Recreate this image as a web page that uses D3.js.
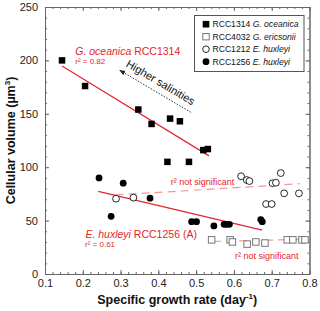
<!DOCTYPE html>
<html><head><meta charset="utf-8">
<script src="https://cdn.jsdelivr.net/npm/d3@7"></script>
<style>body{margin:0;background:#fff}svg{display:block;font-family:"Liberation Sans",Arial,Helvetica,sans-serif}</style>
</head><body>
<svg id="c" width="320" height="311"></svg>
<script>
// ---- data ----
const gOceanica = [[0.145,200],[0.206,176],[0.347,154],[0.382,140.5],[0.431,145.5],[0.457,143],[0.424,105],[0.481,105],[0.519,116],[0.531,117]];
const gEricsonii = [[0.541,32],[0.590,32],[0.596,30],[0.635,28],[0.658,30],[0.682,29],[0.741,32],[0.756,32],[0.780,32],[0.788,32]];
const eHux1212 = [[0.288,70.5],[0.334,71.5],[0.619,91.5],[0.634,88],[0.641,87],[0.702,85],[0.711,85.5],[0.724,94.5],[0.733,75.5],[0.772,75.5],[0.685,65.5],[0.700,65.5]];
const eHux1256 = [[0.243,90],[0.275,54],[0.307,85],[0.378,71],[0.488,49],[0.501,49],[0.547,45],[0.574,46.5],[0.581,46.5],[0.588,46.5],[0.671,51],[0.675,49]];
const fitOceanica = [[0.145,194.7],[0.534,110.6]];
const fit1256 = [[0.241,77.3],[0.675,41.1]];
const fit1212 = [[0.287,74],[0.775,84.5]];
const fitEricsonii = [[0.545,30.5],[0.79,32.5]];
const xTicks = [0.1,0.2,0.3,0.4,0.5,0.6,0.7,0.8];
const yTicks = [0,50,100,150,200,250];
const arrow = [[0.486,151.4],[0.298,190.7]];

const red = "#e3262b", pink = "#f29a9a", axisCol = "#666";
const svg = d3.select("#c");
const x = d3.scaleLinear([0.1,0.8],[45,309.5]);
const y = d3.scaleLinear([0,250],[274,7]);
const L=45,R=309.5,T=7,B=274;

const xMinor = d3.range(0.1,0.8001,0.02).map(v=>+v.toFixed(2));
const yMinor = d3.range(0,250.1,10);

function styleAxis(g){
  g.selectAll(".domain").attr("stroke",axisCol);
  g.selectAll(".tick line").attr("stroke",axisCol);
  g.selectAll("text").attr("fill","#222").attr("font-size",11).attr("font-family","Liberation Sans, Arial, sans-serif");
}
// bottom
svg.append("g").attr("transform",`translate(0,${B})`).call(d3.axisBottom(x).tickValues(xMinor).tickSize(-2).tickSizeOuter(0).tickFormat("")).call(styleAxis);
svg.append("g").attr("transform",`translate(0,${B})`).call(d3.axisBottom(x).tickValues(xTicks).tickSize(-4).tickSizeOuter(0).tickPadding(5).tickFormat(d3.format(".1f"))).call(styleAxis);
// top
svg.append("g").attr("transform",`translate(0,${T})`).call(d3.axisTop(x).tickValues(xMinor).tickSize(-2).tickSizeOuter(0).tickFormat("")).call(styleAxis);
svg.append("g").attr("transform",`translate(0,${T})`).call(d3.axisTop(x).tickValues(xTicks).tickSize(-4).tickSizeOuter(0).tickFormat("")).call(styleAxis);
// left
svg.append("g").attr("transform",`translate(${L},0)`).call(d3.axisLeft(y).tickValues(yMinor).tickSize(-2).tickSizeOuter(0).tickFormat("")).call(styleAxis);
svg.append("g").attr("transform",`translate(${L},0)`).call(d3.axisLeft(y).tickValues(yTicks).tickSize(-4).tickSizeOuter(0).tickPadding(7)).call(styleAxis);
// right
svg.append("g").attr("transform",`translate(${R},0)`).call(d3.axisRight(y).tickValues(yMinor).tickSize(-2).tickSizeOuter(0).tickFormat("")).call(styleAxis);
svg.append("g").attr("transform",`translate(${R},0)`).call(d3.axisRight(y).tickValues(yTicks).tickSize(-4).tickSizeOuter(0).tickFormat("")).call(styleAxis);

// axis titles
const yt = svg.append("text").attr("transform",`translate(15,${(T+B)/2}) rotate(-90)`).attr("text-anchor","middle")
  .attr("font-weight","bold").attr("font-size",12.5).attr("fill","#111");
yt.append("tspan").text("Cellular volume (µm");
yt.append("tspan").text("3").attr("font-size",8).attr("dy",-5);
yt.append("tspan").text(")").attr("dy",5);
const xt = svg.append("text").attr("x",(L+R)/2).attr("y",304).attr("text-anchor","middle")
  .attr("font-weight","bold").attr("font-size",12.5).attr("fill","#111");
xt.append("tspan").text("Specific growth rate (day");
xt.append("tspan").text("-1").attr("font-size",8).attr("dy",-5);
xt.append("tspan").text(")").attr("dy",5);

// fit lines
const line = d3.line().x(d=>x(d[0])).y(d=>y(d[1]));
svg.append("path").attr("d",line(fitOceanica)).attr("stroke",red).attr("stroke-width",1.2).attr("fill","none");
svg.append("path").attr("d",line(fit1256)).attr("stroke",red).attr("stroke-width",1.2).attr("fill","none");
svg.append("path").attr("d",line(fit1212)).attr("stroke",pink).attr("stroke-width",1.2).attr("stroke-dasharray","8,5").attr("fill","none");
svg.append("path").attr("d",line(fitEricsonii)).attr("stroke",pink).attr("stroke-width",1.2).attr("stroke-dasharray","8,5").attr("fill","none");

// points
const sq = 6.5, r = 3.4;
svg.append("g").selectAll("rect").data(gEricsonii).join("rect")
  .attr("x",d=>x(d[0])-sq/2).attr("y",d=>y(d[1])-sq/2).attr("width",sq).attr("height",sq)
  .attr("fill","#fff").attr("stroke","#777").attr("stroke-width",1);
svg.append("g").selectAll("circle").data(eHux1212).join("circle")
  .attr("cx",d=>x(d[0])).attr("cy",d=>y(d[1])).attr("r",r)
  .attr("fill","#fff").attr("stroke","#111").attr("stroke-width",0.9);
svg.append("g").selectAll("circle").data(eHux1256).join("circle")
  .attr("cx",d=>x(d[0])).attr("cy",d=>y(d[1])).attr("r",r).attr("fill","#000");
svg.append("g").selectAll("rect").data(gOceanica).join("rect")
  .attr("x",d=>x(d[0])-sq/2).attr("y",d=>y(d[1])-sq/2).attr("width",sq).attr("height",sq).attr("fill","#000");

// annotations
function label(px,py,italic,normal,size,col){
  const t = svg.append("text").attr("x",px).attr("y",py).attr("font-size",size).attr("fill",col);
  t.append("tspan").text(italic).attr("font-style","italic");
  t.append("tspan").text(normal);
  return t;
}
label(x(0.18),y(205.5),"G. oceanica"," RCC1314",10.5,red);
svg.append("text").attr("x",x(0.18)).attr("y",y(205.5)+9.5).attr("font-size",8).attr("fill",red).text("r² = 0.82");
label(x(0.207),y(34),"E. huxleyi"," RCC1256 (A)",10.5,red);
svg.append("text").attr("x",x(0.206)).attr("y",y(34)+9.5).attr("font-size",8).attr("fill",red).text("r² = 0.61");
svg.append("text").attr("x",x(0.433)).attr("y",y(83.5)).attr("font-size",9).attr("fill",red).text("r² not significant");
svg.append("text").attr("x",x(0.603)).attr("y",y(14.5)).attr("font-size",9).attr("fill",red).text("r² not significant");

// arrow
const defs = svg.append("defs");
defs.append("marker").attr("id","ah").attr("viewBox","0 0 10 10").attr("refX",9).attr("refY",5)
  .attr("markerWidth",6).attr("markerHeight",6).attr("orient","auto")
  .append("path").attr("d","M0,1 L10,5 L0,9 Z").attr("fill","#222");
svg.append("path").attr("d",line(arrow)).attr("stroke","#333").attr("stroke-width",1).attr("stroke-dasharray","1.5,1.5")
  .attr("fill","none").attr("marker-end","url(#ah)");
const ax0=x(arrow[0][0]),ay0=y(arrow[0][1]),ax1=x(arrow[1][0]),ay1=y(arrow[1][1]);
const ang = Math.atan2(ay0-ay1, ax0-ax1)*180/Math.PI;
const mx=(ax0+ax1)/2+0.509*6.5, my=(ay0+ay1)/2-0.861*6.5;
svg.append("text").attr("transform",`translate(${mx},${my}) rotate(${ang})`).attr("text-anchor","middle")
  .attr("font-size",11).attr("fill","#111").text("Higher salinities");

// legend
const lg = svg.append("g").attr("transform","translate(194.5,15.5)");
lg.append("rect").attr("width",109.5).attr("height",56).attr("fill","#fff").attr("stroke","#555").attr("stroke-width",1);
const legendItems = [["sq","RCC1314 ","G. oceanica"],["osq","RCC4032 ","G. ericsonii"],["oc","RCC1212 ","E. huxleyi"],["c","RCC1256 ","E. huxleyi"]];
legendItems.forEach((it,i)=>{
  const cy = 8.7 + i*12.5, cx = 11.5;
  if(it[0]==="sq") lg.append("rect").attr("x",cx-3.3).attr("y",cy-3.3).attr("width",6.6).attr("height",6.6).attr("fill","#000");
  if(it[0]==="osq") lg.append("rect").attr("x",cx-3.2).attr("y",cy-3.2).attr("width",6.4).attr("height",6.4).attr("fill","#fff").attr("stroke","#777");
  if(it[0]==="oc") lg.append("circle").attr("cx",cx).attr("cy",cy).attr("r",3.3).attr("fill","#fff").attr("stroke","#111").attr("stroke-width",0.9);
  if(it[0]==="c") lg.append("circle").attr("cx",cx).attr("cy",cy).attr("r",3.4).attr("fill","#000");
  const t = lg.append("text").attr("x",18).attr("y",cy+3.2).attr("font-size",8.6).attr("fill","#111");
  t.append("tspan").text(it[1]);
  t.append("tspan").text(it[2]).attr("font-style","italic");
});
</script>
</body></html>
